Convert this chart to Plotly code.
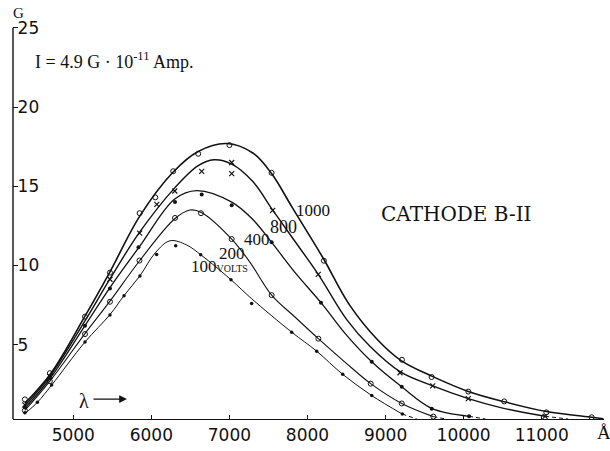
import plotly.graph_objects as go

# ---- drawn (smoothed) curves: wavelength in Å, photoelectric yield G ----
curve_lam_1000 = [4380, 4700, 5150, 5470, 5850, 6280, 6600, 6965, 7300, 7540, 7800, 8050, 8220,
                  8540, 8900, 9200, 9600, 10060, 10520, 11060, 11640, 11790]
curve_g_1000 = [1.3, 3.1, 6.8, 9.6, 13.1, 15.9, 17.2, 17.7, 17.1, 15.8, 13.7, 11.7, 10.3,
                7.5, 5.3, 4.0, 3.0, 2.05, 1.4, 0.78, 0.42, 0.33]

curve_lam_800 = [4380, 4700, 5150, 5470, 5850, 6300, 6600, 6800, 7030, 7300, 7554, 7818, 8138,
                 8500, 8800, 9185, 9604, 10060, 10500, 11043]
curve_g_800 = [1.15, 3.0, 6.5, 9.15, 12.1, 14.9, 16.3, 16.67, 16.4, 15.3, 13.5, 11.67, 9.44,
               6.6, 4.9, 3.3, 2.4, 1.6, 1.0, 0.48]
tail_lam_800 = [11043, 11337]
tail_g_800 = [0.48, 0.31]

curve_lam_400 = [4380, 4700, 5150, 5470, 5850, 6300, 6580, 7030, 7300, 7541, 7850, 8173, 8500,
                 8823, 9207, 9591, 10070]
curve_g_400 = [1.0, 2.85, 6.2, 8.6, 11.2, 14.2, 14.73, 14.0, 12.9, 11.46, 9.5, 7.65, 5.6,
               3.92, 2.34, 0.98, 0.48]
tail_lam_400 = [10070, 10280]
tail_g_400 = [0.48, 0.31]

curve_lam_200 = [4380, 4700, 5150, 5470, 5850, 6300, 6495, 6640, 7029, 7264, 7541, 7850, 8139,
                 8480, 8810, 9207, 9612]
curve_g_200 = [0.85, 2.7, 5.7, 7.75, 10.3, 12.95, 13.5, 13.35, 11.67, 10.2, 8.13, 6.7, 5.38,
               3.9, 2.54, 1.29, 0.46]
tail_lam_200 = [9612, 9770]
tail_g_200 = [0.46, 0.31]

curve_lam_100 = [4380, 4540, 4723, 5150, 5470, 5650, 5854, 6050, 6239, 6450, 6640, 7020, 7285,
                 7798, 8118, 8451, 8823, 9215]
curve_g_100 = [0.65, 1.36, 2.45, 5.17, 6.9, 8.1, 9.35, 10.8, 11.56, 11.3, 10.65, 9.1, 7.9,
               5.79, 4.59, 3.13, 1.79, 0.62]
tail_lam_100 = [9215, 9400]
tail_g_100 = [0.62, 0.31]

# ---- measured points ----
pts_lam_1000 = [4380, 4700, 5150, 5470, 5850, 6050, 6280, 6600, 7000, 7540, 8210, 9210, 9590,
                10060, 10520, 11060, 11640]
pts_g_1000 = [1.55, 3.2, 6.77, 9.55, 13.3, 14.3, 15.95, 17.05, 17.6, 15.85, 10.3, 4.05, 2.96,
              2.04, 1.42, 0.73, 0.42]

pts_lam_800 = [4380, 4700, 5470, 5850, 6070, 6300, 6645, 7029, 7029, 7554, 8138, 9185, 9604,
               10060, 11043]
pts_g_800 = [1.2, 3.0, 9.13, 12.04, 13.86, 14.7, 15.94, 16.5, 15.8, 13.48, 9.44, 3.23, 2.4,
             1.6, 0.48]

pts_lam_400 = [4380, 4700, 5150, 5470, 5835, 6303, 6645, 7029, 7541, 8173, 8823, 9207, 9591, 10070]
pts_g_400 = [1.05, 2.9, 6.2, 8.54, 11.15, 14.0, 14.48, 13.8, 11.46, 7.65, 3.92, 2.34, 0.96, 0.48]

pts_lam_200 = [4380, 4700, 5150, 5470, 5848, 6303, 6636, 7029, 7541, 8139, 8810, 9207, 9612]
pts_g_200 = [0.85, 2.7, 5.67, 7.71, 10.31, 13.0, 13.3, 11.67, 8.13, 5.38, 2.54, 1.29, 0.46]

pts_lam_100 = [4380, 4540, 4723, 5150, 5470, 5650, 5854, 6068, 6312, 6632, 7020, 7285, 7798,
               8118, 8451, 8823, 9215]
pts_g_100 = [0.7, 1.36, 2.46, 5.17, 6.87, 8.09, 9.34, 10.7, 11.25, 10.67, 9.1, 7.6, 5.79,
             4.59, 3.13, 1.79, 0.62]

x_ticks = [5000, 6000, 7000, 8000, 9000, 10000, 11000]
y_ticks = [5, 10, 15, 20, 25]

INK = "#111111"
SERIF = "Liberation Serif, DejaVu Serif, serif"
SANS = "DejaVu Sans, sans-serif"

Y_LOW, Y_HIGH, Y_TOP = 0.31, 25.0, 26.0

fig = go.Figure()

series = [
    (curve_lam_1000, curve_g_1000, None, None, pts_lam_1000, pts_g_1000,
     dict(symbol="circle-open", size=5, color=INK, line=dict(width=1)), 1.6),
    (curve_lam_800, curve_g_800, tail_lam_800, tail_g_800, pts_lam_800, pts_g_800,
     dict(symbol="x-thin", size=5, color=INK, line=dict(width=1.2, color=INK)), 1.4),
    (curve_lam_400, curve_g_400, tail_lam_400, tail_g_400, pts_lam_400, pts_g_400,
     dict(symbol="circle", size=4, color=INK), 1.3),
    (curve_lam_200, curve_g_200, tail_lam_200, tail_g_200, pts_lam_200, pts_g_200,
     dict(symbol="circle-open", size=5, color=INK, line=dict(width=1)), 1.1),
    (curve_lam_100, curve_g_100, tail_lam_100, tail_g_100, pts_lam_100, pts_g_100,
     dict(symbol="circle", size=3.5, color=INK), 1.0),
]

for c_lam, c_g, t_lam, t_g, p_lam, p_g, mk, lw in series:
    fig.add_trace(go.Scatter(x=c_lam, y=c_g, mode="lines",
                             line=dict(color=INK, width=lw, shape="spline", smoothing=1.0),
                             hoverinfo="skip", showlegend=False))
    if t_lam is not None:
        fig.add_trace(go.Scatter(x=t_lam, y=t_g, mode="lines",
                                 line=dict(color=INK, width=1, dash="4px,3px"),
                                 hoverinfo="skip", showlegend=False))
    fig.add_trace(go.Scatter(x=p_lam, y=p_g, mode="markers", marker=mk,
                             showlegend=False))

# curve labels (anode voltage)
labels = [
    ("1000", 8065, 13.49, 17),
    ("800", 7693, 12.43, 18),
    ("400", 7347, 11.67, 17),
    ("200", 7027, 10.73, 17),
]
for txt, lx, ly, fs in labels:
    fig.add_annotation(x=lx, y=ly, text=txt, showarrow=False, xanchor="center", yanchor="middle",
                       font=dict(family=SERIF, size=fs, color=INK))
fig.add_annotation(x=6483, y=9.91, xanchor="left", yanchor="middle",
                   text="100<span style='font-size:10px'>VOLTS</span>",
                   showarrow=False, font=dict(family=SERIF, size=17, color=INK))

fig.add_annotation(xref="paper", yref="y", x=0.619, y=13.25, xanchor="left", yanchor="middle",
                   text="CATHODE B-II", showarrow=False,
                   font=dict(family="DejaVu Serif, serif", size=20, color=INK))

fig.add_annotation(xref="paper", yref="y", x=0.034, y=22.95, xanchor="left", yanchor="middle",
                   text="I = 4.9 G · 10<sup>-11</sup> Amp.", showarrow=False,
                   font=dict(family=SERIF, size=18, color=INK))

# axis title, set just above the top tick label
fig.add_annotation(xref="paper", yref="paper", x=0.009, y=0.998, xanchor="center", yanchor="middle",
                   text="G", showarrow=False,
                   font=dict(family=SERIF, size=15, color=INK))

fig.add_annotation(xref="paper", yref="paper", x=1.0, y=-0.032, xanchor="center", yanchor="middle",
                   text="Å", showarrow=False, font=dict(family=SERIF, size=19, color=INK))

# wavelength arrow
fig.add_annotation(x=5138, y=1.44, text="λ", showarrow=False, xanchor="center", yanchor="middle",
                   font=dict(family=SERIF, size=20, color=INK))
fig.add_annotation(x=5688, y=1.57, ax=5240, ay=1.57, axref="x", ayref="y", text="",
                   showarrow=True, arrowhead=2, arrowsize=1.3, arrowwidth=1.2, arrowcolor=INK)

# vertical axis line stops at the 25 mark
fig.add_shape(type="line", xref="paper", x0=0, x1=0, yref="y", y0=Y_LOW, y1=Y_HIGH,
              line=dict(color=INK, width=1.4))

fig.update_xaxes(range=[4228, 11798], tickvals=x_ticks, ticktext=[str(v) for v in x_ticks],
                 showline=True, linecolor=INK, linewidth=1.4, ticks="inside", ticklen=4,
                 tickcolor=INK, showgrid=False, zeroline=False,
                 tickfont=dict(family=SANS, size=17, color=INK))
fig.update_yaxes(range=[Y_LOW, Y_TOP], tickvals=y_ticks, ticktext=[str(v) for v in y_ticks],
                 showline=False, ticks="inside", ticklen=5,
                 tickcolor=INK, showgrid=False, zeroline=False, ticklabelposition="inside",
                 tickfont=dict(family=SANS, size=17, color=INK))

# about 16 px per unit of G; the area reaches above 25 so the top label fits
fig.update_layout(width=610, height=451, margin=dict(l=13, r=6, t=12, b=29),
                  paper_bgcolor="white", plot_bgcolor="white")

fig.write_html("out.html")
